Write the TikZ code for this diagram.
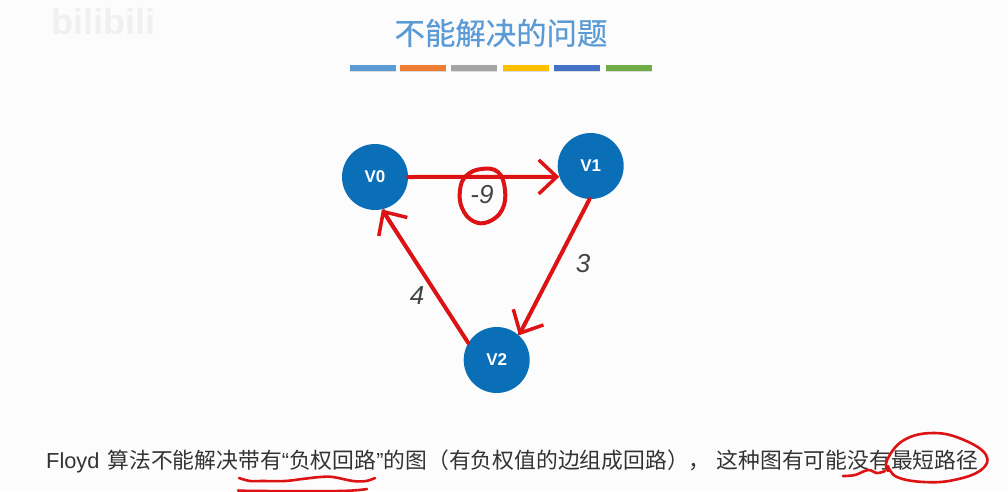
\documentclass[tikz,border=0pt]{standalone}
\usepackage{fontspec}
\setmainfont{Liberation Sans}
\newfontfamily\cjk{Noto Sans CJK SC}
\newfontfamily\cjkbold[FakeBold=0.5]{Noto Sans CJK SC}
\usetikzlibrary{arrows.meta,shadows}
\definecolor{inkred}{HTML}{DD1215}
\definecolor{nodeblue}{HTML}{0B6FB8}
\definecolor{titleblue}{HTML}{5B9BD5}
\definecolor{bodytext}{HTML}{333333}
\definecolor{weighttext}{HTML}{444444}
\tikzset{
  vertex/.style={circle,fill=nodeblue,minimum size=66pt,inner sep=0pt,text=white,font=\fontsize{17}{17}\selectfont\bfseries},
  ink/.style={draw=inkred,line width=4pt,line cap=round,line join=round},
  thinink/.style={draw=inkred,line width=2.6pt,line cap=round,line join=round},
  barb/.style={-{Straight Barb[length=18pt,width=34pt,line width=3.5pt]}},
  weight/.style={text=weighttext,font=\fontsize{26}{26}\selectfont\itshape},
  bar/.style={minimum height=5.5pt,minimum width=46pt,inner sep=0pt,anchor=west,drop shadow={opacity=.25,shadow xshift=0pt,shadow yshift=-1pt}},
}
\begin{document}
\begin{tikzpicture}[x=1pt,y=-1pt]
\useasboundingbox (0,0) rectangle (1008,491);
\fill[white!99!black] (0,0) rectangle (1008,491);
\node[text=black!6,font=\fontsize{36}{36}\selectfont\bfseries,anchor=center] (wm) at (103,22) {bilibili};
\node[text=titleblue,font=\cjkbold\fontsize{30.4}{31}\selectfont,anchor=center] (title) at (501,33) {不能解决的问题};
\node[bar,fill=titleblue] (b1) at (350,68) {};
\node[bar,fill={rgb,255:red,237;green,125;blue,49}] (b2) at (399.5,68) {};
\node[bar,fill={rgb,255:red,165;green,165;blue,165}] (b3) at (451,68) {};
\node[bar,fill={rgb,255:red,255;green,192;blue,0}] (b4) at (503,68) {};
\node[bar,fill={rgb,255:red,68;green,114;blue,196}] (b5) at (553.5,68) {};
\node[bar,fill={rgb,255:red,112;green,173;blue,71}] (b6) at (605.5,68) {};
\node[vertex] (V0) at (375,177) {V0};
\node[vertex] (V1) at (590.7,166) {V1};
\node[vertex] (V2) at (496.7,360) {V2};
\draw[black!85,line width=1pt] (V1.-92) -- (V2.50);
\draw[black!85,line width=1pt] (V2.150) -- (V0.-75);
\draw[ink,barb] (V0.east) -- (V1.199);
\draw[ink,barb] (V1.-92) -- (V2.48);
\draw[ink,barb] (V2.149) -- (V0.-78);
\node[weight] (w0) at (482,195) {-9};
\node[weight] (w1) at (583,264) {3};
\node[weight] (w2) at (417,296) {4};
\draw[ink] plot[smooth cycle,tension=.7] coordinates {(481,169)(498,172)(505,190)(502,210)(488,222)(473,221)(462,208)(460,190)(466,176)};
\node[text=bodytext,font=\fontsize{21.8}{22}\selectfont,anchor=base west,inner sep=0pt] (caption) at (46,468) {Floyd\hspace{8pt}{\cjk 算法不能解决带有}“{\cjk 负权回路}”{\cjk 的图（有负权值的边组成回路），\hspace{6pt}这种图有可能没有最短路径}};
\draw[thinink] plot[smooth,tension=.6] coordinates {(239,478)(250,481)(262,481)(285,481)(302,479)(320,477)(333,477)(353,481)(366,481)(375,478)};
\draw[thinink] plot[smooth,tension=.6] coordinates {(238,490.5)(260,491)(340,491)(367,489)};
\draw[thinink] plot[smooth,tension=.6] coordinates {(843,476)(855,475)(868,470)(877,473)(885,471)};
\draw[thinink] plot[smooth,tension=.7] coordinates {(888,471)(887,460)(904,440)(934,433)(964,440)(986,455)(981,470)(954,480)(924,482)(897,477)(888,466)};
\end{tikzpicture}
\end{document}
